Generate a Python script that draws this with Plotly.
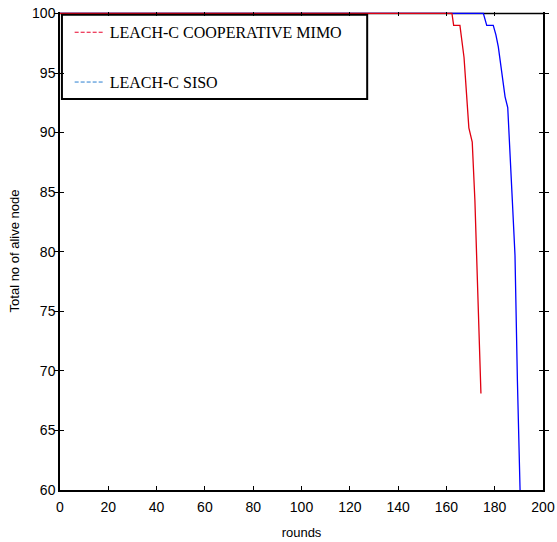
import plotly.graph_objects as go

# Data
mimo_rounds = [0, 162.3, 163.0, 165.6, 167.3, 169.3, 170.7, 171.8, 174.3]
mimo_alive = [100, 100, 99, 99, 96.3, 90.4, 89.2, 84.3, 68.1]

siso_rounds = [0, 175.3, 176.7, 179.4, 180.5, 181.5, 184.3, 185.4, 187.3, 188.4, 189.4, 190.5]
siso_alive = [100, 100, 99, 99, 98.2, 97.2, 93.0, 92.1, 84.3, 79.7, 69.2, 60.0]

x_ticks = [0, 20, 40, 60, 80, 100, 120, 140, 160, 180, 200]
y_ticks = [60, 65, 70, 75, 80, 85, 90, 95, 100]

legend_names = ["LEACH-C COOPERATIVE MIMO", "LEACH-C SISO"]

fig = go.Figure()
fig.add_trace(go.Scatter(x=siso_rounds, y=siso_alive, mode="lines",
                         line=dict(color="#0000ff", width=1.3), showlegend=False))
fig.add_trace(go.Scatter(x=mimo_rounds, y=mimo_alive, mode="lines",
                         line=dict(color="#e00010", width=1.3), showlegend=False))
# legend entries (dashed samples)
fig.add_trace(go.Scatter(x=[None], y=[None], mode="lines", name=legend_names[0],
                         legendgroup="a",
                         line=dict(color="#e8002a", width=1, dash="4px,2px")))
fig.add_trace(go.Scatter(x=[None], y=[None], mode="lines", name=legend_names[1],
                         legendgroup="b",
                         line=dict(color="#2a7fd0", width=1, dash="4px,2px")))
# empty trace so the top tick axis is rendered
fig.add_trace(go.Scatter(x=[None], y=[None], xaxis="x2", yaxis="y",
                         mode="lines", showlegend=False, hoverinfo="skip"))

tickfont = dict(family="Liberation Sans", size=14, color="black")

fig.update_layout(
    xaxis=dict(range=[0, 200], tickvals=x_ticks, ticktext=[str(v) for v in x_ticks],
               showline=True, linecolor="black", linewidth=1.5, mirror=False,
               ticks="inside", ticklen=4, tickcolor="black", showgrid=False,
               zeroline=False, automargin=False, layer="below traces",
               tickfont=tickfont, ticklabelstandoff=3,
               title=dict(text="rounds", font=dict(family="Liberation Sans", size=13, color="black"),
                          standoff=14)),
    xaxis2=dict(range=[0, 200], overlaying="x", side="top", tickvals=x_ticks,
                showticklabels=False, showline=False, ticks="inside", ticklen=4,
                tickcolor="black", showgrid=False, zeroline=False, automargin=False),
    yaxis=dict(range=[60, 100.12], tickvals=y_ticks, ticktext=[str(v) for v in y_ticks],
               showline=True, linecolor="black", linewidth=1.5, mirror="allticks",
               ticks="inside", ticklen=4, tickcolor="black", showgrid=False,
               zeroline=False, automargin=False, layer="below traces",
               tickfont=tickfont,
               title=dict(text="Total no of alive node", font=dict(family="Liberation Sans", size=13, color="black"),
                          standoff=10)),
)

# top frame line at the value 100 (drawn below traces so the series cover it)
fig.add_shape(type="line", xref="x", yref="y", x0=0, x1=200, y0=100, y1=100,
              line=dict(color="black", width=1.5), layer="below")

# legend frame
fig.add_shape(type="rect", xref="paper", yref="paper", x0=0.004, x1=0.636, y0=0.818, y1=0.994,
              line=dict(color="black", width=2), fillcolor="rgba(0,0,0,0)")

fig.update_layout(
    width=557, height=542,
    margin=dict(l=60, r=14, t=12, b=52),
    paper_bgcolor="white", plot_bgcolor="white",
    legend=dict(x=0.02, y=0.993, xanchor="left", yanchor="top",
                bgcolor="rgba(0,0,0,0)", borderwidth=0,
                font=dict(family="Liberation Serif", size=16, color="black"),
                tracegroupgap=26, traceorder="grouped", itemwidth=30),
)

fig.write_html("out.html")
